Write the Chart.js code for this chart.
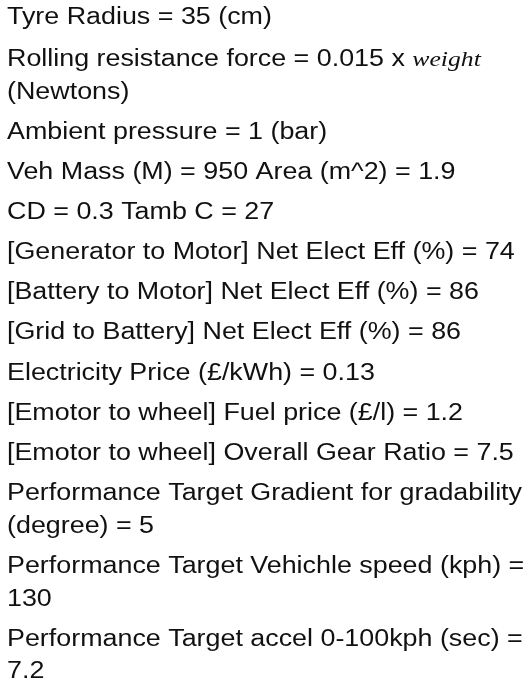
<!DOCTYPE html>
<html>
<head>
<meta charset="utf-8">
<script src="https://cdn.jsdelivr.net/npm/chart.js@4"></script>
<style>
  html, body { margin: 0; padding: 0; background: #fff; }
  #wrap { width: 527px; height: 683px; }
</style>
</head>
<body>
<div id="wrap"><canvas id="c"></canvas></div>
<script>
// text lines, each a list of [text, style] pieces ('n' normal, 'i' italic serif)
var lines = [
   [["Tyre Radius = 35 (cm)", "n"]],
   [["Rolling resistance force = 0.015 x ", "n"], ["weight", "i"]],
   [["(Newtons)", "n"]],
   [["Ambient pressure = 1 (bar)", "n"]],
   [["Veh Mass (M) = 950 Area (m^2) = 1.9", "n"]],
   [["CD = 0.3 Tamb C = 27", "n"]],
   [["[Generator to Motor] Net Elect Eff (%) = 74", "n"]],
   [["[Battery to Motor] Net Elect Eff (%) = 86", "n"]],
   [["[Grid to Battery] Net Elect Eff (%) = 86", "n"]],
   [["Electricity Price (\u00a3/kWh) = 0.13", "n"]],
   [["[Emotor to wheel] Fuel price (\u00a3/l) = 1.2", "n"]],
   [["[Emotor to wheel] Overall Gear Ratio = 7.5", "n"]],
   [["Performance Target Gradient for gradability", "n"]],
   [["(degree) = 5", "n"]],
   [["Performance Target Vehichle speed (kph) =", "n"]],
   [["130", "n"]],
   [["Performance Target accel 0-100kph (sec) =", "n"]],
   [["7.2", "n"]]
];
// vertical centre of each line, in pixels
var lineY = [18, 60, 93, 133, 173, 213, 253, 293, 333, 374, 414, 454, 494, 527, 567, 600, 640, 672];

var textPlugin = {
   id: 'textLines',
   afterDraw: function(chart) {
      var ctx = chart.ctx;
      var normal = '23px "Liberation Sans", Arial, sans-serif';
      ctx.save();
      ctx.font = normal;
      // stretch horizontally so the longest line spans like the reference
      var sx = 515 / ctx.measureText(lines[12][0][0]).width;
      ctx.fillStyle = '#111';
      ctx.textBaseline = 'middle';
      lines.forEach(function(parts, i) {
         var x = 7 / sx;
         ctx.save();
         ctx.scale(sx, 1);
         parts.forEach(function(p) {
            ctx.font = p[1] === 'i' ? 'italic 22px "Liberation Serif", serif' : normal;
            ctx.fillText(p[0], x, lineY[i]);
            x += ctx.measureText(p[0]).width;
         });
         ctx.restore();
      });
      ctx.restore();
   }
};

new Chart(document.getElementById('c'), {
   type: 'scatter',
   data: { datasets: [{ data: [] }] },
   options: {
      responsive: true,
      maintainAspectRatio: false,
      animation: false,
      plugins: { legend: { display: false }, tooltip: { enabled: false } },
      scales: { x: { display: false }, y: { display: false } }
   },
   plugins: [textPlugin]
});
</script>
</body>
</html>
